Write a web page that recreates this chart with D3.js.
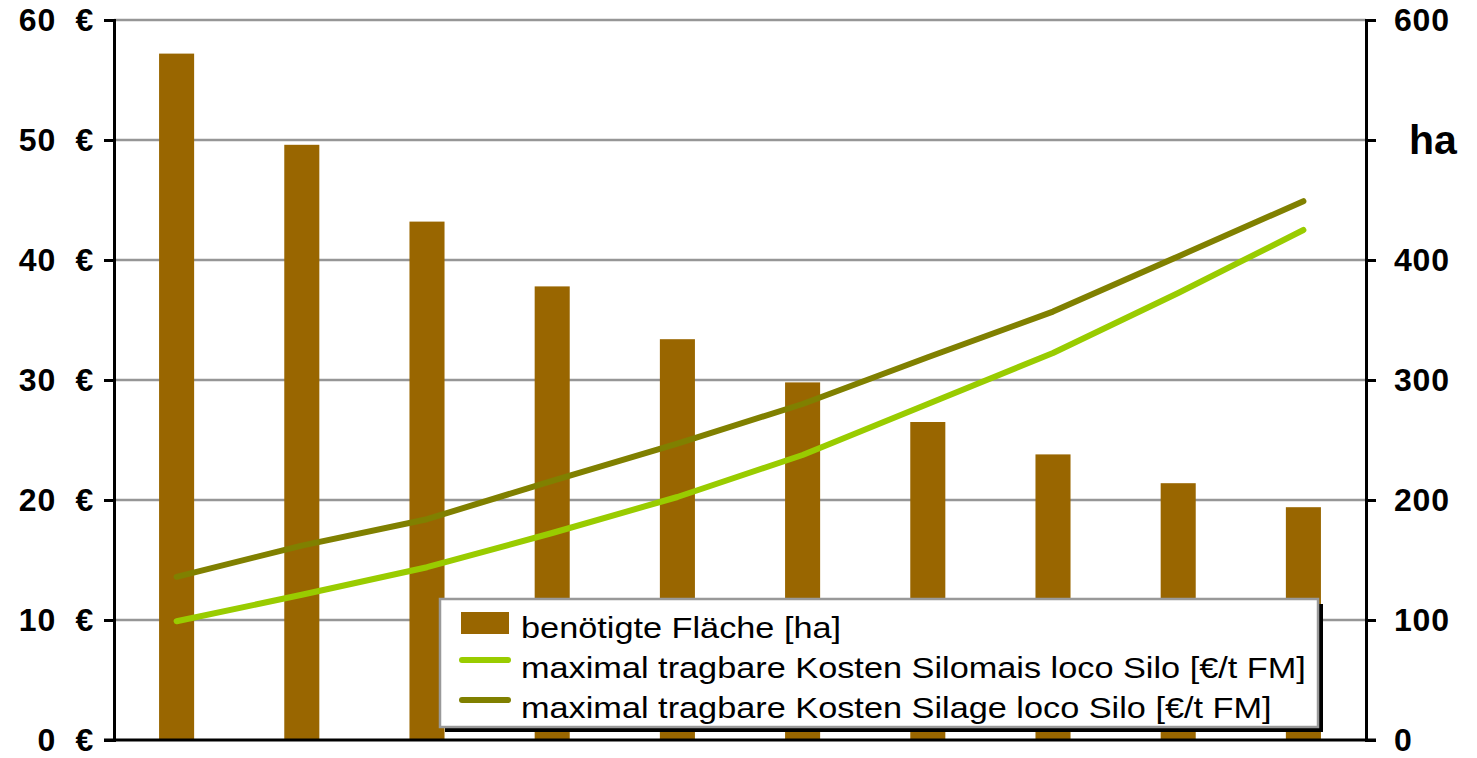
<!DOCTYPE html>
<html>
<head>
<meta charset="utf-8">
<script src="https://cdn.jsdelivr.net/npm/d3@7"></script>
<style>
  html, body { margin: 0; padding: 0; background: #fff; }
  svg { display: block; font-family: "Liberation Sans", Arial, sans-serif; }
</style>
</head>
<body>
<svg id="chart" width="1477" height="758"></svg>
<script>
// Scenario index along the x axis (no labels shown)
const categories = ["1", "2", "3", "4", "5", "6", "7", "8", "9", "10"];
// Required area in hectares (right axis)
const flaeche = [572, 496, 432, 378, 334, 298, 265, 238, 214, 194];
// Maximum bearable cost, silage maize at silo [€/t FM] (left axis)
const silomais = [9.9, 12.1, 14.4, 17.25, 20.25, 23.75, 28.0, 32.25, 37.25, 42.5];
// Maximum bearable cost, silage at silo [€/t FM] (left axis)
const silage = [13.6, 16.2, 18.4, 21.6, 24.7, 28.0, 31.9, 35.7, 40.3, 44.9];

const leftTicks = [0, 10, 20, 30, 40, 50, 60];
const rightTicks = [0, 100, 200, 300, 400, 500, 600];
// The 500 position carries the unit label instead of a number
const rightUnitTick = 500;
const rightUnit = "ha";

const legendItems = [
  { label: "benötigte Fläche [ha]", type: "bar", color: "#996600" },
  { label: "maximal tragbare Kosten Silomais loco Silo [€/t FM]", type: "line", color: "#99CC00" },
  { label: "maximal tragbare Kosten Silage loco Silo [€/t FM]", type: "line", color: "#808000" }
];

const svg = d3.select("#chart");
const plot = { left: 114, right: 1366, top: 20, bottom: 740 };

const x = d3.scaleBand()
  .domain(categories)
  .range([plot.left, plot.right])
  .paddingInner(0.72)
  .paddingOuter(0.36);

const yLeft = d3.scaleLinear().domain([0, 60]).range([plot.bottom, plot.top]);
const yRight = d3.scaleLinear().domain([0, 600]).range([plot.bottom, plot.top]);

// Horizontal gridlines
svg.append("g")
  .selectAll("line")
  .data(leftTicks.filter(d => d > 0))
  .join("line")
  .attr("x1", plot.left)
  .attr("x2", plot.right)
  .attr("y1", d => yLeft(d))
  .attr("y2", d => yLeft(d))
  .attr("stroke", "#969696")
  .attr("stroke-width", 2.5);

// Bars: required area
svg.append("g")
  .selectAll("rect")
  .data(flaeche)
  .join("rect")
  .attr("x", (d, i) => x(categories[i]))
  .attr("width", x.bandwidth())
  .attr("y", d => yRight(d))
  .attr("height", d => yRight(0) - yRight(d))
  .attr("fill", "#996600");

// Cost lines
const line = d3.line()
  .x((d, i) => x(categories[i]) + x.bandwidth() / 2)
  .y(d => yLeft(d));

[[silomais, "#99CC00"], [silage, "#808000"]].forEach(([vals, color]) => {
  svg.append("path")
    .datum(vals)
    .attr("d", line)
    .attr("fill", "none")
    .attr("stroke", color)
    .attr("stroke-width", 6)
    .attr("stroke-linecap", "round")
    .attr("stroke-linejoin", "round");
});

function styleAxis(g) {
  g.select(".domain").attr("stroke", "#000").attr("stroke-width", 3);
  g.selectAll(".tick line").attr("stroke", "#000").attr("stroke-width", 3);
  g.selectAll(".tick text")
    .attr("fill", "#000")
    .style("font-size", "32px")
    .style("font-weight", "bold")
    .style("letter-spacing", "0.8px")
    .style("font-family", "'Liberation Sans', Arial, sans-serif");
}

// Left axis (€)
const gL = svg.append("g")
  .attr("transform", `translate(${plot.left},0)`)
  .call(d3.axisLeft(yLeft)
    .tickValues(leftTicks)
    .tickSize(10)
    .tickPadding(10)
    .tickFormat(d => d + "\u00a0\u00a0€"));
styleAxis(gL);

// Right axis (ha)
const gR = svg.append("g")
  .attr("transform", `translate(${plot.right},0)`)
  .call(d3.axisRight(yRight)
    .tickValues(rightTicks)
    .tickSize(10)
    .tickPadding(18)
    .tickFormat(d => d === rightUnitTick ? "" : d3.format("d")(d)));
styleAxis(gR);

// Unit label sitting at the 500 tick
svg.append("text")
  .attr("x", 1409)
  .attr("y", yRight(rightUnitTick))
  .attr("dy", "0.34em")
  .attr("fill", "#000")
  .style("font-size", "41px")
  .style("font-weight", "bold")
  .text(rightUnit);

// Bottom baseline
svg.append("line")
  .attr("x1", plot.left - 10)
  .attr("x2", plot.right + 10)
  .attr("y1", plot.bottom)
  .attr("y2", plot.bottom)
  .attr("stroke", "#000")
  .attr("stroke-width", 3);

// Legend
const lg = { x: 440, y: 599, w: 878, h: 128 };
const legend = svg.append("g");
legend.append("rect")
  .attr("x", lg.x + 5).attr("y", lg.y + 5)
  .attr("width", lg.w).attr("height", lg.h)
  .attr("fill", "#000");
legend.append("rect")
  .attr("x", lg.x).attr("y", lg.y)
  .attr("width", lg.w).attr("height", lg.h)
  .attr("fill", "#fff")
  .attr("stroke", "#999")
  .attr("stroke-width", 2.5);

legendItems.forEach((item, i) => {
  const cy = 623 + i * 40;
  if (item.type === "bar") {
    legend.append("rect")
      .attr("x", 461).attr("y", cy - 11)
      .attr("width", 48).attr("height", 22)
      .attr("fill", item.color);
  } else {
    legend.append("line")
      .attr("x1", 462).attr("x2", 508)
      .attr("y1", cy - 3).attr("y2", cy - 3)
      .attr("stroke", item.color)
      .attr("stroke-width", 6)
      .attr("stroke-linecap", "round");
  }
  legend.append("text")
    .attr("transform", `translate(521,${cy + 15}) scale(1.143,1)`)
    .attr("fill", "#000")
    .style("font-size", "30px")
    .text(item.label);
});
</script>
</body>
</html>
